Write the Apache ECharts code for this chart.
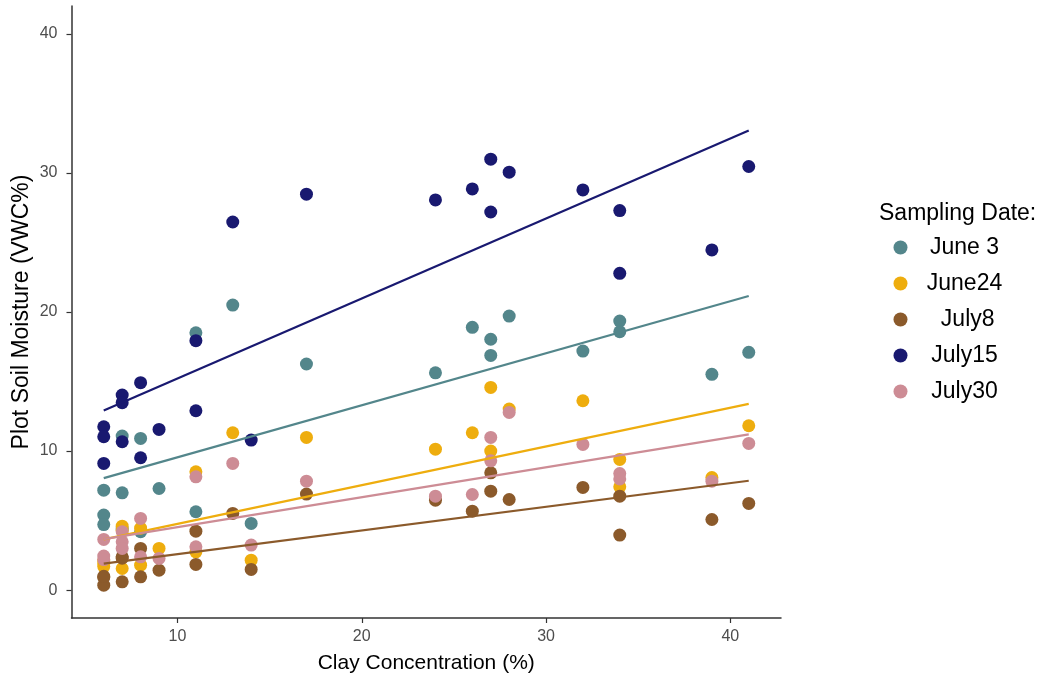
<!DOCTYPE html>
<html>
<head>
<meta charset="utf-8">
<script src="https://cdn.jsdelivr.net/npm/echarts@6/dist/echarts.min.js"></script>
<style>
html,body{margin:0;padding:0;background:#fff;}
#chart{width:1056px;height:680px;}
</style>
</head>
<body>
<div id="chart"></div>
<script>
// Clay concentration (%) of each plot (shared by every sampling date)
const clay = [6,6,6,7,7,7,8,8,9,11,11,13,14,17,24,26,27,27,28,32,34,34,39,41];
// Plot soil moisture (VWC%) per sampling date, aligned with clay
const june3  = [7.19,5.40,4.72, 11.08,7.00,4.40, 10.91,4.20, 7.31, 18.50,5.64, 20.50, 4.80, 16.26, 15.63, 18.90, 18.04,16.88, 19.71, 17.19, 19.35,18.58, 15.52, 17.10];
const june24 = [1.90,1.70,2.10, 4.60,1.56,4.30, 4.46,1.80, 3.00, 8.51,2.76, 11.32, 2.16, 10.98, 10.14, 11.32, 14.58,10.00, 13.02, 13.62, 9.40,7.43, 8.10, 11.82];
const july8  = [0.91,0.36,1.00, 2.40,0.60,2.30, 3.00,0.96, 1.44, 4.24,1.85, 5.52, 1.49, 6.91, 6.47, 5.68, 8.44,7.12, 6.52, 7.39, 6.76,3.96, 5.08, 6.24];
const july15 = [11.75,11.03,9.11, 14.03,13.48,10.67, 14.92,9.52, 11.56, 17.94,12.90, 26.47, 10.79, 28.47, 28.06, 28.85, 30.99,27.19, 30.05, 28.78, 27.29,22.78, 24.46, 30.46];
const july30 = [3.65,2.45,2.20, 4.20,3.48,3.00, 5.16,2.40, 2.28, 8.15,3.12, 9.11, 3.24, 7.84, 6.76, 6.88, 10.98,9.30, 12.78, 10.48, 8.39,8.00, 7.84, 10.55];

const seriesNames = ['June 3','June24',' July8','July15','July30'];
const seriesValues = [june3, june24, july8, july15, july30];
const colors = ['#53868B','#EEAD0E','#8B5A2B','#191970','#CD8C95'];
const xTicks = [10,20,30,40];
const yTicks = [0,10,20,30,40];

function fit(xs, ys){
  const n = xs.length;
  let sx=0, sy=0;
  for(let i=0;i<n;i++){sx+=xs[i]; sy+=ys[i];}
  const mx=sx/n, my=sy/n;
  let sxy=0, sxx=0;
  for(let i=0;i<n;i++){sxy+=(xs[i]-mx)*(ys[i]-my); sxx+=(xs[i]-mx)*(xs[i]-mx);}
  const b=sxy/sxx, a=my-b*mx;
  const x0=Math.min(...xs), x1=Math.max(...xs);
  return [[x0,a+b*x0],[x1,a+b*x1]];
}

const FONT = '"Liberation Sans", Arial, sans-serif';
const series = [];
seriesNames.forEach((name,i)=>{
  series.push({
    name: name, type:'scatter', symbol:'circle', symbolSize:13,
    itemStyle:{color:colors[i], opacity:1},
    data: clay.map((c,j)=>[c, seriesValues[i][j]]),
    z: 2
  });
});
seriesNames.forEach((name,i)=>{
  series.push({
    name: name, type:'line', showSymbol:false, symbol:'none',
    lineStyle:{color:colors[i], width:2.2},
    itemStyle:{color:colors[i]},
    data: fit(clay, seriesValues[i]),
    z: 3, silent:true
  });
});

const chart = echarts.init(document.getElementById('chart'), null, {renderer:'canvas'});
chart.setOption({
  animation:false,
  backgroundColor:'#ffffff',
  textStyle:{fontFamily:FONT},
  title:{
    text:'Sampling Date:', left:879, top:202, padding:0,
    textStyle:{fontSize:23, fontWeight:'normal', color:'#000', fontFamily:FONT}
  },
  legend:{
    data: seriesNames.map(n=>({name:n, icon:'circle'})),
    orient:'vertical', left:893.5, top:236, padding:0,
    itemWidth:14, itemHeight:14, itemGap:13,
    formatter: name => '{a|' + name + '}',
    textStyle:{
      color:'#000',
      rich:{a:{fontSize:23, width:104, align:'center', lineHeight:23, color:'#000', fontFamily:FONT}}
    }
  },
  grid:{left:71.5, right:275, top:6, bottom:62, containLabel:false, outerBoundsMode:'none'},
  xAxis:{
    type:'value', min:4.25, max:42.75,
    name:'Clay Concentration (%)', nameLocation:'middle', nameGap:35,
    nameTextStyle:{fontSize:21, color:'#000'},
    axisLine:{show:true, onZero:false, lineStyle:{color:'#333', width:1.5}},
    axisTick:{show:true, length:5, customValues:xTicks, lineStyle:{color:'#333', width:1.2}},
    axisLabel:{customValues:xTicks, fontSize:16, color:'#4D4D4D', margin:11},
    splitLine:{show:false}
  },
  yAxis:{
    type:'value', min:-2, max:42,
    name:'Plot Soil Moisture (VWC%)', nameLocation:'middle', nameGap:38, nameRotate:90,
    nameMoveOverlap:false,
    nameTextStyle:{fontSize:23, color:'#000'},
    axisLine:{show:true, onZero:false, lineStyle:{color:'#333', width:1.5}},
    axisTick:{show:true, length:5, customValues:yTicks, lineStyle:{color:'#333', width:1.2}},
    axisLabel:{customValues:yTicks, fontSize:16, color:'#4D4D4D', margin:14},
    splitLine:{show:false}
  },
  series: series
});
</script>
</body>
</html>
